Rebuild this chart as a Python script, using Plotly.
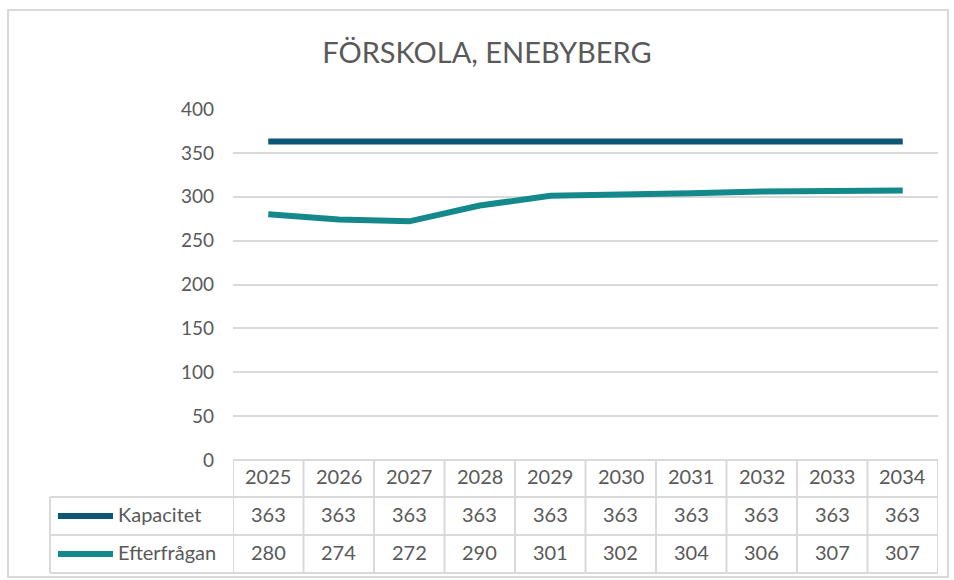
import plotly.graph_objects as go

years = ['2025', '2026', '2027', '2028', '2029', '2030', '2031', '2032', '2033', '2034']
kapacitet = [363, 363, 363, 363, 363, 363, 363, 363, 363, 363]
efterfragan = [280, 274, 272, 290, 301, 302, 304, 306, 307, 307]
series_names = ['Kapacitet', 'Efterfrågan']
series_colors = ['#0e5675', '#14898b']

W, H = 954, 580
FONT = 'Lato'
GREY = '#595959'
LINE = '#d9d9d9'
TXT_SHIFT = 12  # annotations render a bit high, push them down


def px(x):
    return x / W


def py(y):
    return 1 - y / H


fig = go.Figure()
for name, vals, col in zip(series_names, [kapacitet, efterfragan], series_colors):
    fig.add_trace(go.Scatter(x=list(range(len(years))), y=vals, name=name, mode='lines',
                             line=dict(color=col, width=6), showlegend=False))

fig.update_layout(
    width=W, height=H,
    margin=dict(l=0, r=0, t=0, b=0, autoexpand=False),
    paper_bgcolor='white', plot_bgcolor='white',
    font=dict(family=FONT, color=GREY),
    title=dict(text='FÖRSKOLA, ENEBYBERG', x=px(487), xanchor='center',
               y=py(53), yanchor='middle', font=dict(size=29, color=GREY)),
    xaxis=dict(domain=[px(233), px(938)], range=[-0.5, len(years) - 0.5], automargin=False,
               showticklabels=False, showgrid=False, zeroline=False, fixedrange=True),
    yaxis=dict(domain=[py(460), py(109)], range=[0, 400], dtick=50, automargin=False,
               showgrid=True, gridcolor=LINE, gridwidth=1.5, zeroline=False,
               tickfont=dict(size=19, color=GREY), ticklabelstandoff=18, fixedrange=True),
)

shapes = []
# outer chart border
shapes.append(dict(type='rect', xref='paper', yref='paper', x0=px(8), x1=px(948), y0=py(577), y1=py(10),
                   line=dict(color=LINE, width=2)))
# table horizontal lines
shapes.append(dict(type='line', xref='paper', yref='paper', x0=px(233), x1=px(938), y0=py(460), y1=py(460),
                   line=dict(color=LINE, width=2)))
for yy in [497, 535, 573]:
    shapes.append(dict(type='line', xref='paper', yref='paper', x0=px(50), x1=px(938), y0=py(yy), y1=py(yy),
                       line=dict(color=LINE, width=2)))
shapes.append(dict(type='line', xref='paper', yref='paper', x0=px(50), x1=px(50), y0=py(497), y1=py(573),
                   line=dict(color=LINE, width=2)))
# table vertical lines at category boundaries
for i in range(len(years) + 1):
    shapes.append(dict(type='line', xref='x', yref='paper', x0=i - 0.5, x1=i - 0.5, y0=py(460), y1=py(573),
                       line=dict(color=LINE, width=2)))
# legend keys
for yy, col in zip([516, 554], series_colors):
    shapes.append(dict(type='line', xref='paper', yref='paper', x0=px(58), x1=px(113), y0=py(yy), y1=py(yy),
                       line=dict(color=col, width=6)))
fig.update_layout(shapes=shapes)

annotations = []
for i, yr in enumerate(years):
    annotations.append(dict(x=i, y=py(478 + TXT_SHIFT), xref='x', yref='paper', text=yr, showarrow=False,
                            font=dict(size=20, color=GREY)))
    annotations.append(dict(x=i, y=py(516 + TXT_SHIFT), xref='x', yref='paper', text=str(kapacitet[i]),
                            showarrow=False, font=dict(size=20, color=GREY)))
    annotations.append(dict(x=i, y=py(554 + TXT_SHIFT), xref='x', yref='paper', text=str(efterfragan[i]),
                            showarrow=False, font=dict(size=20, color=GREY)))
for yy, name in zip([516, 554], series_names):
    annotations.append(dict(x=px(116), y=py(yy + TXT_SHIFT), xref='paper', yref='paper', text=name,
                            showarrow=False, xanchor='left', font=dict(size=20, color=GREY)))
fig.update_layout(annotations=annotations)

fig.write_html('out.html', config={'displayModeBar': False},
               post_script="document.body.style.margin='0';document.body.style.overflow='hidden';")
